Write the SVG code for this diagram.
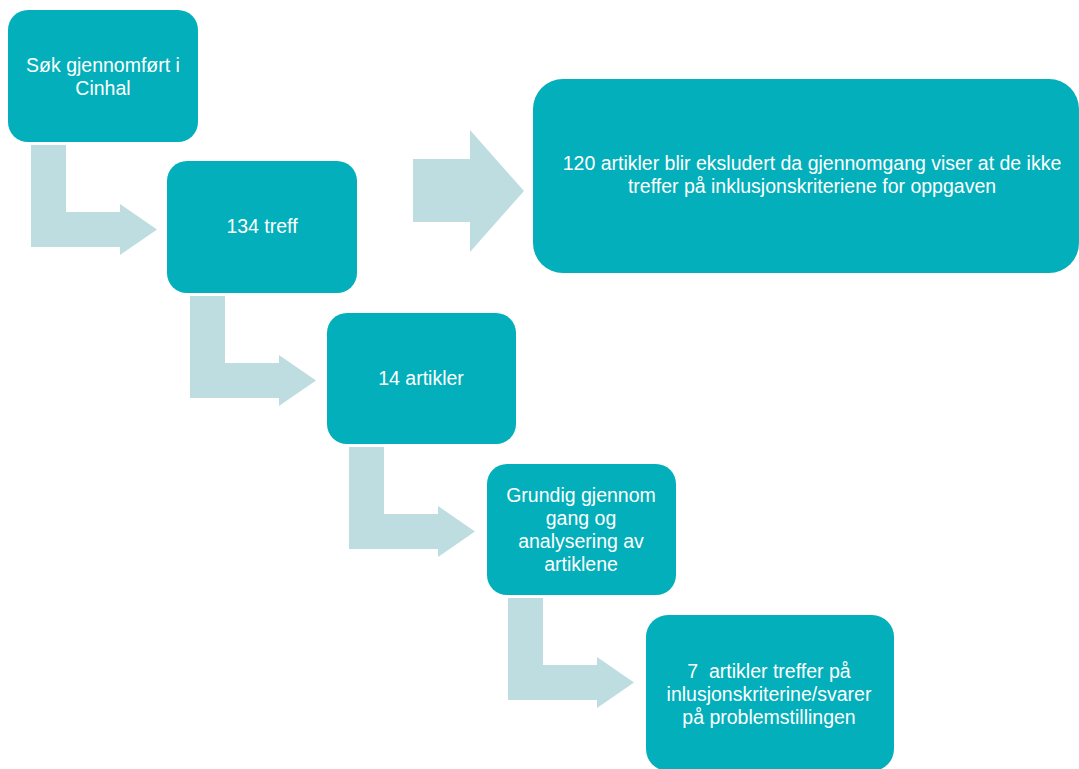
<svg xmlns="http://www.w3.org/2000/svg" width="1079" height="769" viewBox="0 0 1079 769">
<defs>
<style>
.box{fill:#02AFBA;}
.arr{fill:#BEDDE0;}
.t{font-family:"Liberation Sans",Arial,sans-serif;font-size:19.5px;fill:#FFFFFF;text-anchor:middle;white-space:pre;}
</style>
<path id="bent" d="M0,0 H35 V67 H89 V59 L126,84.5 L89,110 V102 H0 Z"/>
</defs>
<rect width="1079" height="769" fill="#FFFFFF"/>
<g id="connectors" class="arr">
<use href="#bent" transform="translate(31,145)"/>
<use href="#bent" transform="translate(190,296)"/>
<use href="#bent" transform="translate(349,447)"/>
<use href="#bent" transform="translate(508,598)"/>
<path d="M413,159 H470 V130 L524,191 L470,252 V222 H413 Z"/>
</g>
<g id="n1">
<rect class="box" x="8" y="10" width="190" height="132" rx="20"/>
<text class="t" x="103" y="72">Søk gjennomført i</text>
<text class="t" x="103" y="95">Cinhal</text>
</g>
<g id="n2">
<rect class="box" x="167" y="161" width="190" height="132" rx="20"/>
<text class="t" x="262" y="233">134 treff</text>
</g>
<g id="n3">
<rect class="box" x="327" y="313" width="189" height="131" rx="20"/>
<text class="t" x="421" y="385">14 artikler</text>
</g>
<g id="n4">
<rect class="box" x="487" y="464" width="189" height="131" rx="20"/>
<text class="t" x="581" y="502">Grundig gjennom</text>
<text class="t" x="581" y="525">gang og</text>
<text class="t" x="581" y="548">analysering av</text>
<text class="t" x="581" y="571">artiklene</text>
</g>
<g id="n5">
<rect class="box" x="646" y="615" width="248" height="156" rx="22"/>
<text class="t" x="769" y="678" xml:space="preserve">7  artikler treffer på</text>
<text class="t" x="769" y="701">inlusjonskriterine/svarer</text>
<text class="t" x="769" y="724">på problemstillingen</text>
</g>
<g id="n6">
<rect class="box" x="533" y="79" width="546" height="194" rx="30"/>
<text class="t" x="812" y="170">120 artikler blir eksludert da gjennomgang viser at de ikke</text>
<text class="t" x="812" y="193">treffer på inklusjonskriteriene for oppgaven</text>
</g>
</svg>
